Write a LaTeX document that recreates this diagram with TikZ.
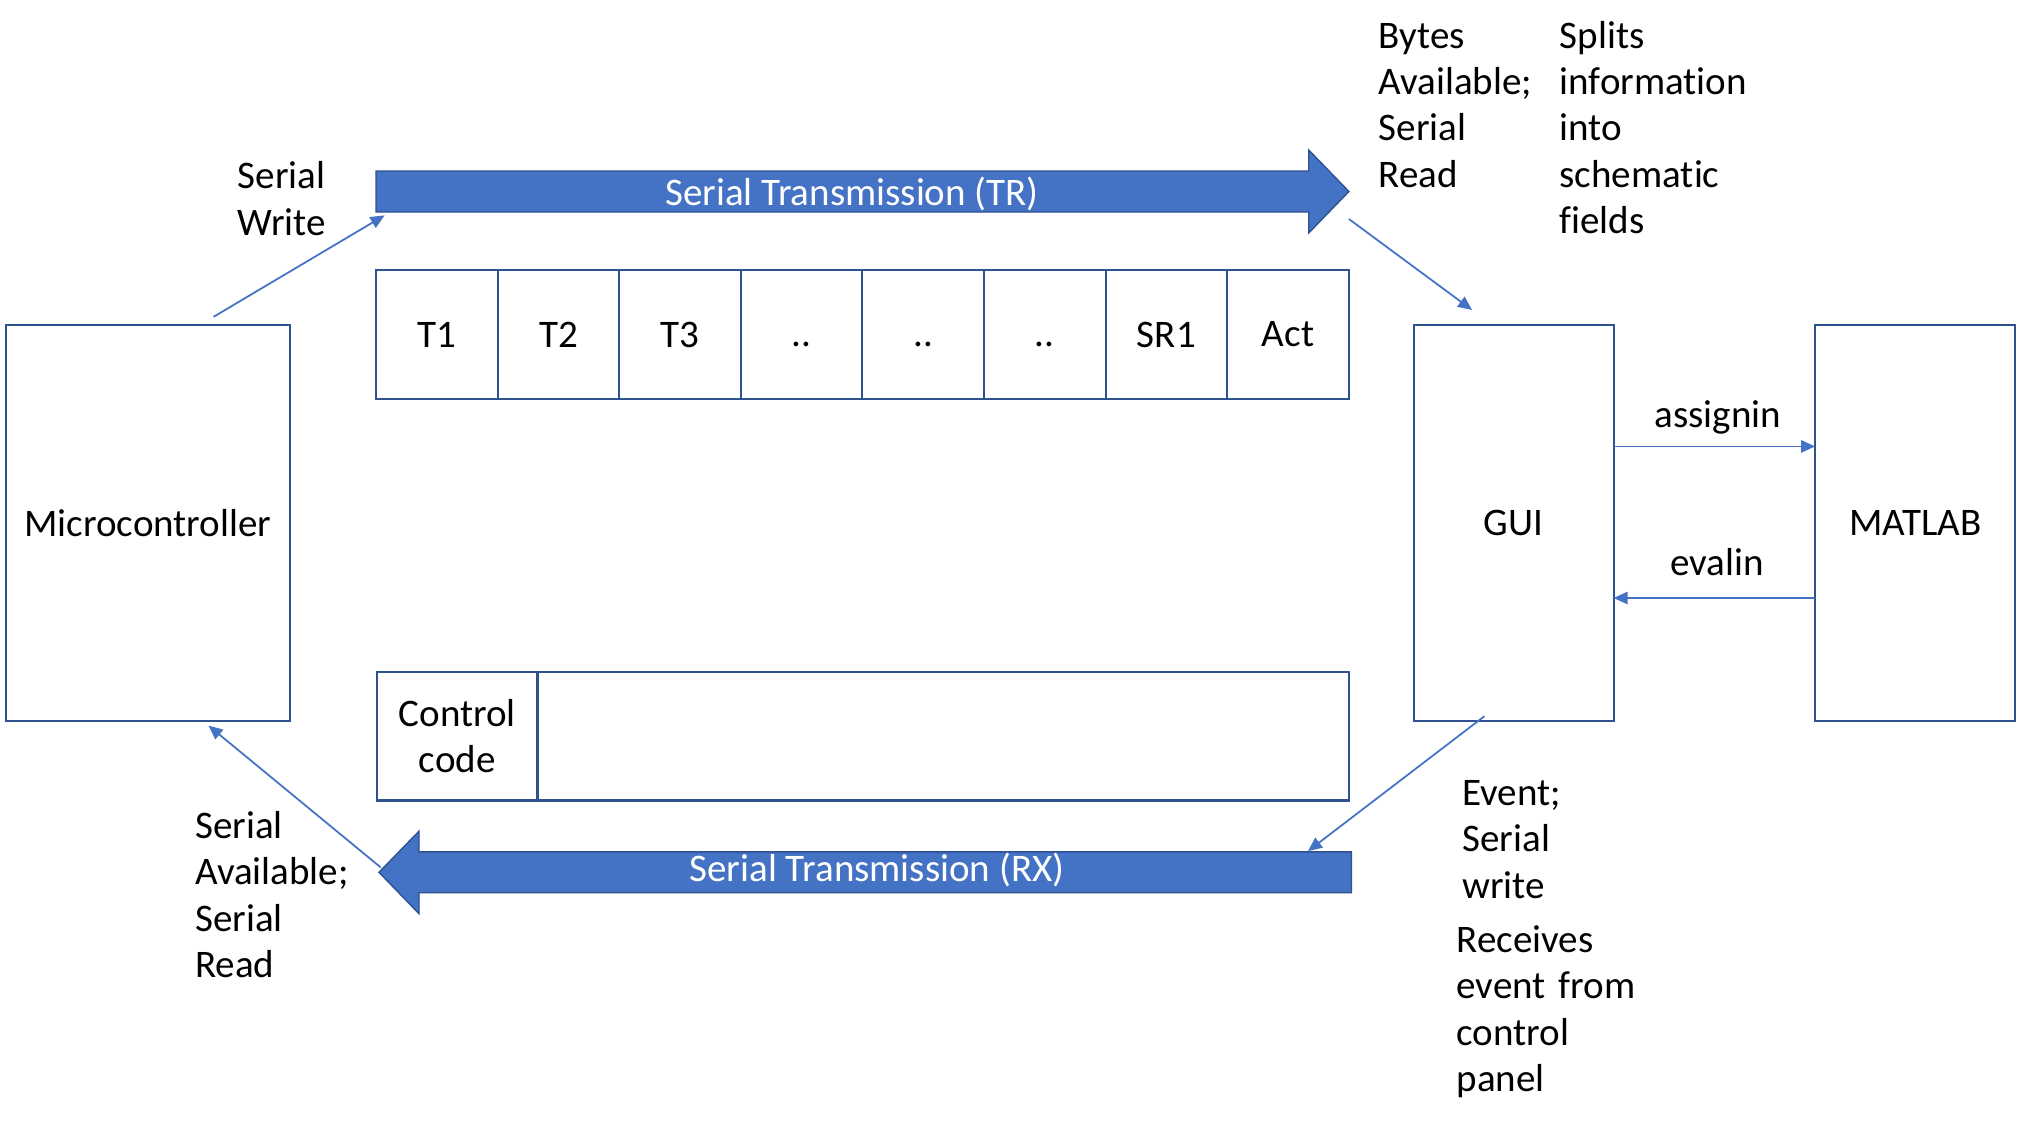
\documentclass[tikz,border=0pt]{standalone}
\usepackage{fontspec}
\setmainfont{Carlito}[Ligatures=NoCommon]
\usetikzlibrary{arrows.meta}
\definecolor{boxblue}{HTML}{2F528F}
\definecolor{accblue}{HTML}{4472C4}
\begin{document}
\begin{tikzpicture}[x=0.01cm,y=-0.01cm,
  every node/.style={font=\fontsize{11.1pt}{13.2pt}\selectfont},
  box/.style={draw=boxblue,line width=0.6pt,inner sep=0pt,outer sep=0pt,align=center},
  link/.style={draw=accblue,line width=0.5pt,-{Triangle[length=4pt,width=3.5pt]}},
  lab/.style={anchor=base west,inner sep=0pt,text width=3cm,align=left},
  bigarrow/.style={fill=accblue,draw=boxblue,line width=0.4pt}]
\useasboundingbox (0,0) rectangle (2017,1127);
\fill[white] (0,0) rectangle (2017,1127);
% main blocks
\node[box,minimum width=2.83cm,minimum height=3.95cm] (mc) at (148,523) {Microcontroller};
\node[box,minimum width=1.998cm,minimum height=3.95cm] (gui) at (1513.6,523) {GUI};
\node[box,minimum width=2.0cm,minimum height=3.95cm] (ml) at (1915.2,523) {MATLAB};
% frame cells
\foreach \i/\t in {1/T1,2/T2,3/T3,4/..,5/..,6/..,7/SR1,8/Act}
  \node[box,minimum width=1.216cm,minimum height=1.29cm] (c\i) at ({376+121.6*(\i-0.5)},334.5) {\vphantom{T}\t};
% control code frame
\node[box,minimum width=1.606cm,minimum height=1.284cm] (cc) at (457.3,736.3) {Control\\code};
\node[box,minimum width=8.113cm,minimum height=1.284cm] (pl) at (943.25,736.3) {};
% big arrows
\path[bigarrow] (376,171) -- (1308.7,171) -- (1308.7,150) -- (1348.9,191.5) -- (1308.7,233) -- (1308.7,212) -- (376,212) -- cycle;
\node[text=white] (tr) at (852,193.5) {Serial Transmission (TR)};
\path[bigarrow] (1351.5,851.9) -- (419,851.9) -- (419,831.2) -- (379,872.3) -- (419,913.7) -- (419,892.7) -- (1351.5,892.7) -- cycle;
\node[text=white] (rx) at (877,870) {Serial Transmission (RX)};
% connector ends
\coordinate (mcw) at (213.6,316.8);
\coordinate (trl) at (384.6,215.4);
\coordinate (trr) at (1348.9,219);
\coordinate (guin) at (1472.1,310);
\coordinate (guis) at (1484.4,716.2);
\coordinate (rxe) at (1308,851.1);
\coordinate (rxt) at (380.7,867.4);
\coordinate (mcs) at (208.5,725.6);
\coordinate (ya) at (0,446.4);
\coordinate (ye) at (0,598);
\draw[link] (mcw) -- (trl);
\draw[link] (trr) -- (guin);
\draw[link] (guis) -- (rxe);
\draw[link] (rxt) -- (mcs);
\draw[link] (gui.east |- ya) -- (ml.west |- ya);
\draw[link] (ml.west |- ye) -- (gui.east |- ye);
% labels
\node[anchor=base,inner sep=0pt] (asg) at (1718,427) {assignin};
\node[anchor=base,inner sep=0pt] (evl) at (1717,575) {evalin};
\node[lab] (lsw) at (237,189) {Serial\\Write};
\node[lab] (lbytes) at (1378,48) {Bytes\\Available;\\Serial\\Read};
\node[lab] (lsplit) at (1559,48) {Splits\\information\\into\\schematic\\fields};
\node[lab] (lsa) at (194.5,838.5) {Serial\\Available;\\Serial\\Read};
\node[lab] (lev) at (1461.7,805.2) {Event;\\Serial\\write};
\node[lab] (lrec) at (1455.9,952.4) {Receives\\event from\\control\\panel};
\end{tikzpicture}
\end{document}
